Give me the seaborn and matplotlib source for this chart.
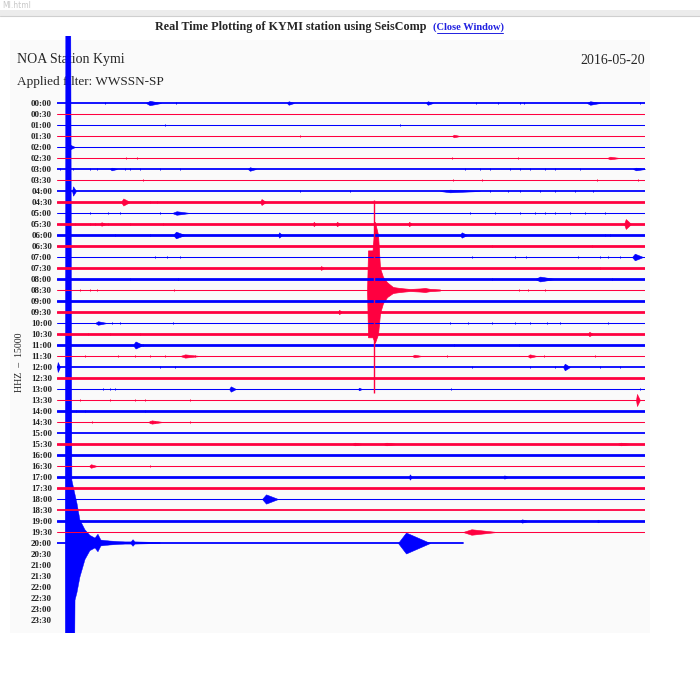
import matplotlib
matplotlib.use("Agg")
import matplotlib.pyplot as plt
from matplotlib.patches import Rectangle
from matplotlib.lines import Line2D
import seaborn as sns
import pandas as pd
import numpy as np


# ---- data (minutes within each 30-min trace, amplitudes in trace spacings) ----
times = ["00:00", "00:30", "01:00", "01:30", "02:00", "02:30", "03:00", "03:30",
         "04:00", "04:30", "05:00", "05:30", "06:00", "06:30", "07:00", "07:30",
         "08:00", "08:30", "09:00", "09:30", "10:00", "10:30", "11:00", "11:30",
         "12:00", "12:30", "13:00", "13:30", "14:00", "14:30", "15:00", "15:30",
         "16:00", "16:30", "17:00", "17:30", "18:00", "18:30", "19:00", "19:30",
         "20:00", "20:30", "21:00", "21:30", "22:00", "22:30", "23:00", "23:30"]

# background noise level of each recorded trace (1 quiet .. 3 noisy)
noise = [2, 1, 1, 1, 1, 1, 2, 1, 2, 3, 1, 3, 3, 3, 1, 3, 3, 1, 3, 3,
         1, 3, 3, 1, 2, 3, 1, 1, 3, 1, 2, 3, 3, 1, 3, 3, 1, 2, 3, 1, 2]
# minutes of data on each trace (the last one is still being recorded)
trace_end = [30] * 40 + [20.71]

# small local events: trace, start, end (min), amplitude
burst_row = [0, 0, 0, 0, 3, 4, 5, 6, 6, 6, 8, 8, 9, 9, 10, 11, 11, 11, 11, 11,
             12, 12, 12, 14, 15, 16, 19, 20, 21, 22, 23, 23, 23, 24, 24, 26, 26,
             27, 29, 31, 31, 31, 33, 34, 34, 36, 38, 38, 39, 40]
burst_t0 = [4.54, 11.73, 18.83, 27.04, 20.15, 0.56, 28.06, 2.70, 9.74, 29.39,
            0.77, 19.54, 3.27, 10.36, 5.87, 2.19, 13.06, 14.23, 17.91, 28.93,
            5.92, 11.28, 20.56, 29.34, 13.42, 24.39, 14.34, 1.94, 27.09, 3.88,
            6.28, 18.11, 24.00, 0.00, 25.82, 8.78, 15.36, 29.54, 4.64, 15.05,
            16.63, 28.57, 1.63, 17.96, 22.76, 10.46, 23.62, 27.55, 20.71, 17.40]
burst_t1 = [5.31, 12.09, 19.18, 27.70, 20.56, 0.92, 28.72, 3.06, 10.15, 30.00,
            0.97, 21.58, 3.72, 10.66, 6.79, 2.50, 13.21, 14.44, 18.11, 29.29,
            6.53, 11.48, 20.92, 29.90, 13.62, 25.41, 14.54, 2.55, 27.35, 4.39,
            7.30, 18.62, 24.49, 0.15, 26.17, 9.13, 15.56, 29.74, 5.41, 15.61,
            17.35, 29.34, 2.04, 18.11, 23.01, 11.28, 24.03, 27.70, 22.45, 19.03]
burst_amp = [0.2, 0.16, 0.16, 0.16, 0.12, 0.22, 0.12, 0.12, 0.16, 0.12,
             0.42, 0.12, 0.32, 0.27, 0.16, 0.16, 0.2, 0.2, 0.2, 0.45,
             0.3, 0.24, 0.24, 0.3, 0.18, 0.22, 0.2, 0.16, 0.2, 0.32,
             0.15, 0.12, 0.15, 0.45, 0.3, 0.24, 0.12, 0.55, 0.15, 0.12,
             0.12, 0.12, 0.16, 0.24, 0.15, 0.42, 0.15, 0.12, 0.25, 0.95]

# isolated glitches
tick_row = ([0] * 7 + [2] * 2 + [3] + [5] * 4 + [6] * 18 + [7] * 5 + [8] * 9 +
            [9] * 2 + [10] * 13 + [11] * 6 + [12] * 4 + [13] * 2 + [14] * 10 +
            [15] + [16] * 4 + [17] * 8 + [20] * 11 + [21] * 3 + [22] * 3 +
            [23] * 10 + [24] * 7 + [26] * 5 + [27] * 5 + [28] * 3 + [29] * 4 + [33])
tick_min = [2.45, 6.07, 21.38, 22.50, 23.62, 23.83, 29.74,
            5.51, 17.50,
            12.40,
            3.52, 4.08, 20.15, 23.52,
            0.15, 0.82, 1.68, 2.04, 3.47, 3.72, 4.23, 5.26, 6.28, 20.82, 21.58,
            22.09, 23.11, 23.62, 24.13, 24.90, 25.41, 26.68,
            4.39, 20.20, 21.68, 27.55, 29.64,
            12.40, 14.95, 22.09, 23.01, 23.62, 24.64, 25.41, 26.43, 27.35,
            4.74, 5.10,
            1.68, 2.60, 3.21, 5.26, 21.07, 22.35, 23.62, 24.39, 24.90, 25.41,
            26.17, 26.94, 27.96,
            0.92, 1.68, 1.94, 2.60, 3.72, 5.41,
            2.96, 4.74, 27.96, 28.21,
            22.19, 27.30,
            5.00, 5.61, 6.28, 21.17, 23.37, 23.93, 26.58, 27.70, 28.11, 28.72,
            27.70,
            3.72, 6.17, 22.19, 28.32,
            0.41, 1.17, 1.68, 2.04, 5.97, 23.57, 24.03, 24.90,
            2.81, 3.21, 5.92, 20.05, 20.97, 22.19, 23.37, 24.13, 25.00, 25.66, 28.11,
            1.58, 2.70, 4.23,
            4.39, 20.26, 23.57,
            1.43, 3.11, 3.98, 4.74, 5.51, 6.53, 7.04, 19.90, 24.85, 27.45,
            5.26, 6.02, 21.17, 24.13, 25.41, 27.70, 28.72,
            2.35, 2.70, 2.96, 20.10, 29.74,
            1.17, 2.70, 3.98, 4.49, 6.79,
            0.97, 1.43, 4.49,
            1.79, 4.74, 5.00, 6.79,
            4.74]

# large event on the 20:00 trace (clipped far beyond the plot)
big_row = 40
big_min = [0.42, 0.45, 0.70, 0.76, 0.92, 1.02, 1.17, 1.43, 1.68, 1.94, 2.09,
           2.24, 2.70, 3.47, 3.78, 3.88, 3.98, 5.26]
big_up = [0, 50, 50, 5.7, 4.4, 3.6, 2.1, 1.2, 0.7, 0.45, 0.8, 0.27, 0.18,
          0.1, 0.1, 0.3, 0.1, 0.05]
big_dn = [0, 50, 50, 50, 5.2, 4.5, 3.1, 1.5, 0.7, 0.45, 0.8, 0.27, 0.18,
          0.1, 0.1, 0.3, 0.1, 0.05]

# regional event on the 08:30 trace
red_row = 17
red_min = [15.82, 15.87, 16.10, 16.22, 16.38, 16.48, 16.63, 16.84, 17.14,
           17.50, 18.01, 18.52, 18.78, 19.03, 19.54]
red_up = [0, 3.6, 3.6, 6.2, 5.0, 2.0, 1.2, 0.7, 0.27, 0.18, 0.09, 0.14,
          0.18, 0.1, 0.05]
red_dn = [0, 4.3, 4.3, 4.8, 4.0, 2.1, 1.2, 0.64, 0.27, 0.18, 0.09, 0.14,
          0.18, 0.1, 0.05]
red_peak_min, red_peak_up, red_peak_dn = 16.17, 8.2, 9.4


# ---- styling ----
blue = "#0000ff"
red = "#ff0040"
serif = "Liberation Serif"

sns.set_theme(style="white")
plt.rcParams["font.family"] = [serif, "DejaVu Serif"]

W = H = 700
fig = plt.figure(figsize=(7, 7), dpi=100)
fig.patch.set_facecolor("white")


def fx(px):
    return px / W


def fy(py):
    return 1 - py / H


# browser bar + page box
fig.add_artist(Rectangle((0, fy(16)), 1, fy(10) - fy(16), transform=fig.transFigure,
                         facecolor="#ececec", edgecolor="none", zorder=0))
fig.add_artist(Line2D([0, 1], [fy(16), fy(16)], transform=fig.transFigure,
                      color="#cfcfcf", lw=0.8, zorder=0))
fig.text(fx(2), fy(5), "MI.html", fontsize=5.5, color="#c8c8c8", va="center",
         family="DejaVu Sans")
fig.add_artist(Rectangle((fx(10), fy(633)), fx(650) - fx(10), fy(40) - fy(633),
                         transform=fig.transFigure, facecolor="#fafafa",
                         edgecolor="none", zorder=0))

fig.text(fx(291), fy(27), "Real Time Plotting of KYMI station using SeisComp",
         ha="center", va="center", fontsize=8.7, fontweight="bold")
fig.text(fx(433), fy(27), "(Close Window)", ha="left", va="center",
         fontsize=7.5, fontweight="bold", color="#2020e0")
fig.add_artist(Line2D([fx(437), fx(503)], [fy(33), fy(33)], transform=fig.transFigure,
                      color="#2020e0", lw=0.7))
fig.text(fx(17), fy(60), "NOA Station Kymi", ha="left", va="center", fontsize=10)
fig.text(fx(645), fy(60), "2016-05-20", ha="right", va="center", fontsize=10)
fig.text(fx(17), fy(82), "Applied filter: WWSSN-SP", ha="left", va="center",
         fontsize=9.5)
fig.text(fx(20), fy(362), "HHZ  \u2013  15000", rotation=90, ha="center",
         va="center", fontsize=7)

ax = fig.add_axes([fx(57), fy(633), fx(645) - fx(57), fy(36) - fy(633)])
ax.set_zorder(5)
ax.set_facecolor("none")

# baselines of every recorded trace
rows = []
for i, end in enumerate(trace_end):
    ch = "blue" if i % 2 == 0 else "red"
    rows.append({"minute": 0.0, "row": i, "line": i, "ch": ch, "noise": noise[i]})
    rows.append({"minute": end, "row": i, "line": i, "ch": ch, "noise": noise[i]})
traces = pd.DataFrame(rows)

sns.lineplot(data=traces, x="minute", y="row", units="line", estimator=None,
             hue="ch", palette={"blue": blue, "red": red},
             size="noise", sizes={1: 0.75, 2: 1.3, 3: 2.0},
             legend=False, sort=False, ax=ax)

colour = lambda r: blue if r % 2 == 0 else red

# glitches
ax.vlines(tick_min, np.array(tick_row) - 0.13, np.array(tick_row) + 0.13,
          colors=[colour(r) for r in tick_row], lw=0.7)

# bursts
for r, t0, t1, a in zip(burst_row, burst_t0, burst_t1, burst_amp):
    xs = [t0, t0 + 0.25 * (t1 - t0), t1]
    ax.fill_between(xs, [r, r - a, r], [r, r + a, r], color=colour(r), lw=0.4)

# the two earthquakes
ax.fill_between(big_min, big_row - np.array(big_up), big_row + np.array(big_dn),
                color=blue, lw=0.3)
ax.fill_between(red_min, red_row - np.array(red_up), red_row + np.array(red_dn),
                color=red, lw=0.5)
ax.vlines([red_peak_min], red_row - red_peak_up, red_row + red_peak_dn,
          colors=red, lw=1.0)

ax.set_xlim(0, 30)
ax.set_ylim((633 - 103) / 11, (36 - 103) / 11)
ax.set_xticks([])
ax.set_yticks(range(len(times)))
ax.set_yticklabels(times, fontsize=6.5, fontweight="bold", color="#222222")
ax.tick_params(axis="y", length=0, pad=3.6)
ax.set_xlabel("")
ax.set_ylabel("")
for s in ax.spines.values():
    s.set_visible(False)

fig.savefig("out.png", dpi=100)
